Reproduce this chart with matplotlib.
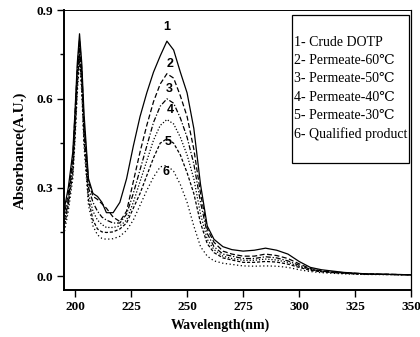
import matplotlib
matplotlib.use("Agg")
import matplotlib.pyplot as plt
from matplotlib.patches import Rectangle
from matplotlib.ticker import MultipleLocator

wavelength = [195, 197, 199, 200, 201, 202, 203, 204, 206, 208, 210, 212, 214, 217,
              220, 223, 226, 229, 232, 235, 238, 241, 244, 247, 250, 253, 256, 259,
              262, 266, 270, 275, 280, 285, 290, 295, 300, 305, 310, 320, 330, 350]

crude = [0.22, 0.30, 0.42, 0.56, 0.72, 0.82, 0.72, 0.55, 0.33, 0.28, 0.27, 0.25, 0.215, 0.215,
         0.25, 0.33, 0.44, 0.54, 0.62, 0.69, 0.745, 0.795, 0.765, 0.69, 0.62, 0.50, 0.31, 0.17,
         0.125, 0.10, 0.09, 0.085, 0.088, 0.095, 0.088, 0.075, 0.05, 0.03, 0.022, 0.013, 0.008, 0.005]
perm60 = [0.20, 0.28, 0.40, 0.55, 0.70, 0.80, 0.70, 0.52, 0.32, 0.27, 0.26, 0.245, 0.23, 0.20,
          0.185, 0.22, 0.32, 0.42, 0.51, 0.59, 0.65, 0.685, 0.67, 0.61, 0.54, 0.43, 0.28, 0.16,
          0.115, 0.085, 0.075, 0.068, 0.068, 0.075, 0.07, 0.06, 0.042, 0.026, 0.018, 0.012, 0.008, 0.005]
perm50 = [0.18, 0.26, 0.38, 0.52, 0.68, 0.78, 0.68, 0.50, 0.30, 0.25, 0.22, 0.20, 0.19, 0.18,
          0.18, 0.21, 0.28, 0.36, 0.44, 0.52, 0.575, 0.60, 0.585, 0.535, 0.47, 0.38, 0.25, 0.145,
          0.10, 0.075, 0.068, 0.06, 0.06, 0.066, 0.062, 0.052, 0.037, 0.024, 0.017, 0.011, 0.007, 0.005]
perm40 = [0.17, 0.25, 0.36, 0.50, 0.66, 0.76, 0.66, 0.48, 0.28, 0.22, 0.19, 0.175, 0.165, 0.165,
          0.17, 0.19, 0.25, 0.32, 0.39, 0.46, 0.51, 0.53, 0.515, 0.47, 0.41, 0.33, 0.21, 0.125,
          0.09, 0.068, 0.06, 0.054, 0.054, 0.058, 0.055, 0.047, 0.033, 0.022, 0.016, 0.01, 0.007, 0.005]
perm30 = [0.16, 0.24, 0.35, 0.48, 0.64, 0.75, 0.64, 0.46, 0.26, 0.19, 0.16, 0.15, 0.148, 0.15,
          0.16, 0.18, 0.23, 0.28, 0.34, 0.40, 0.45, 0.465, 0.45, 0.41, 0.35, 0.28, 0.18, 0.11,
          0.08, 0.062, 0.055, 0.047, 0.047, 0.05, 0.048, 0.041, 0.03, 0.02, 0.015, 0.01, 0.007, 0.005]
qualified = [0.14, 0.22, 0.33, 0.46, 0.62, 0.73, 0.62, 0.44, 0.24, 0.17, 0.14, 0.128, 0.125, 0.127,
             0.135, 0.155, 0.19, 0.24, 0.29, 0.335, 0.37, 0.375, 0.355, 0.31, 0.25, 0.17, 0.10, 0.068,
             0.052, 0.044, 0.04, 0.035, 0.034, 0.035, 0.034, 0.03, 0.022, 0.016, 0.012, 0.008, 0.006, 0.005]

legend_labels = ["1- Crude DOTP", "2- Permeate-60\u2103", "3- Permeate-50\u2103",
                 "4- Permeate-40\u2103", "5- Permeate-30\u2103", "6- Qualified product"]
curve_tags = ["1", "2", "3", "4", "5", "6"]
tag_x = [240.8, 242.3, 242.0, 242.6, 241.6, 240.5]
tag_y = [0.843, 0.717, 0.633, 0.562, 0.453, 0.354]

series = [crude, perm60, perm50, perm40, perm30, qualified]
styles = ["-", (0, (4, 2)), (0, (4, 1.5, 1, 1.5)), (0, (1, 1.5)), (0, (2.5, 1.5)), (0, (1, 2))]

fig = plt.figure(figsize=(4.2, 3.37), dpi=100)
ax = fig.add_axes([0.152, 0.139, 0.827, 0.831])

for ys, ls in zip(series, styles):
    ax.plot(wavelength, ys, color="black", linestyle=ls, linewidth=0.9)

for t, x, y in zip(curve_tags, tag_x, tag_y):
    ax.text(x, y, t, ha="center", va="center", fontsize=9, fontweight="bold",
            family="Liberation Sans")

ax.set_xlim(195, 350)
ax.set_ylim(-0.047, 0.9)
ax.xaxis.set_major_locator(MultipleLocator(25))
ax.yaxis.set_minor_locator(MultipleLocator(0.15))
ax.tick_params(axis="both", which="major", direction="out", length=5, width=1.0,
               labelsize=9.5, pad=3)
ax.tick_params(axis="y", which="minor", direction="out", length=3, width=1.0)
ax.tick_params(top=False, right=False)
ax.set_yticks([0.0, 0.3, 0.6, 0.9])
ax.set_yticklabels(["0.0", "0.3", "0.6", "0.9"])
for lab in ax.get_xticklabels() + ax.get_yticklabels():
    lab.set_fontweight("bold")
    lab.set_family("Liberation Serif")

ax.spines["left"].set_linewidth(1.4)
ax.spines["bottom"].set_linewidth(1.4)
ax.spines["top"].set_linewidth(0.7)
ax.spines["right"].set_linewidth(0.9)

ax.set_xlabel("Wavelength(nm)", fontsize=10, fontweight="bold", family="Liberation Serif")
ax.set_ylabel("Absorbance(A.U.)", fontsize=11, fontweight="bold", family="Liberation Serif")
ax.xaxis.set_label_coords(0.45, -0.1)
ax.yaxis.set_label_coords(-0.107, 0.5)

box = Rectangle((0.657, 0.454), 0.337, 0.528, transform=ax.transAxes,
                facecolor="white", edgecolor="black", linewidth=0.9, zorder=3)
ax.add_patch(box)
for i, lab in enumerate(legend_labels):
    txt = ax.text(0.662, 0.886 - i * 0.0655, lab, transform=ax.transAxes, ha="left",
                  va="center", fontsize=10, family=["Liberation Serif", "DejaVu Serif"],
                  zorder=4)
    txt.set_clip_path(box)
    txt.set_clip_on(True)

fig.savefig("out.png", dpi=100)
